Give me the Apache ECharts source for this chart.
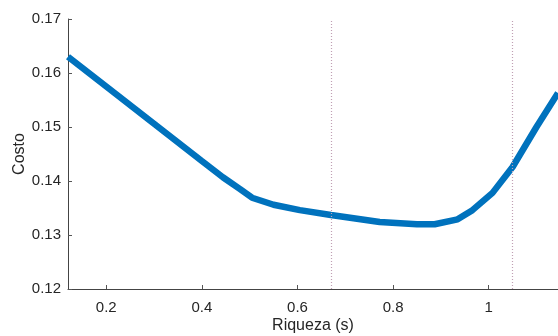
<!DOCTYPE html>
<html><head><meta charset="utf-8">
<script src="https://cdn.jsdelivr.net/npm/echarts@6/dist/echarts.min.js"></script>
<style>html,body{margin:0;padding:0;background:#fff}#c{width:558px;height:336px}</style>
</head><body><div id="c"></div>
<script>
const riqueza = [0.12, 0.2, 0.3, 0.4, 0.444, 0.48, 0.505, 0.55, 0.605, 0.67, 0.772, 0.85, 0.887, 0.935, 0.966, 1.008, 1.05, 1.10, 1.145];
const costo   = [0.1630, 0.1575, 0.1506, 0.1437, 0.1407, 0.1385, 0.1369, 0.1356, 0.1346, 0.1337, 0.1324, 0.1320, 0.1320, 0.1329, 0.1346, 0.1378, 0.1426, 0.1500, 0.1563];
const xTicks = [0.2, 0.4, 0.6, 0.8, 1];
const refLines = [0.670, 1.054];

const chart = echarts.init(document.getElementById('c'));
const font = 'Liberation Sans, Arial, Helvetica, sans-serif';
chart.setOption({
  animation: false,
  grid: {left: 68, right: 0, top: 19, bottom: 47, outerBoundsMode: 'none', containLabel: false},
  xAxis: {
    type: 'value', min: 0.12, max: 1.145,
    name: 'Riqueza (s)', nameLocation: 'middle', nameGap: 29, nameMoveOverlap: false,
    nameTextStyle: {fontFamily: font, fontSize: 16, color: '#262626'},
    axisLine: {show: true, lineStyle: {color: '#444', width: 1}},
    axisTick: {show: true, inside: true, length: 4, customValues: xTicks, lineStyle: {color: '#555'}},
    axisLabel: {customValues: xTicks, fontFamily: font, fontSize: 15, color: '#262626', margin: 11},
    splitLine: {show: false}
  },
  yAxis: {
    type: 'value', min: 0.12, max: 0.17, interval: 0.01,
    name: 'Costo', nameLocation: 'middle', nameGap: 40, nameMoveOverlap: false,
    nameTextStyle: {fontFamily: font, fontSize: 16, color: '#262626'},
    axisLine: {show: true, lineStyle: {color: '#444', width: 1}},
    axisTick: {show: true, inside: true, length: 4, lineStyle: {color: '#555'}},
    axisLabel: {fontFamily: font, fontSize: 15, color: '#262626', margin: 7, formatter: v => v.toFixed(2)},
    splitLine: {show: false}
  },
  series: [{
    type: 'line', showSymbol: false, smooth: false,
    data: riqueza.map((x, i) => [x, costo[i]]),
    lineStyle: {color: '#0072BD', width: 6.5},
    markLine: {
      silent: true, symbol: ['none', 'none'], label: {show: false},
      lineStyle: {type: [1, 2], color: '#c0a0b4', width: 1.2},
      data: refLines.map(v => ({xAxis: v}))
    }
  }]
});
</script></body></html>
